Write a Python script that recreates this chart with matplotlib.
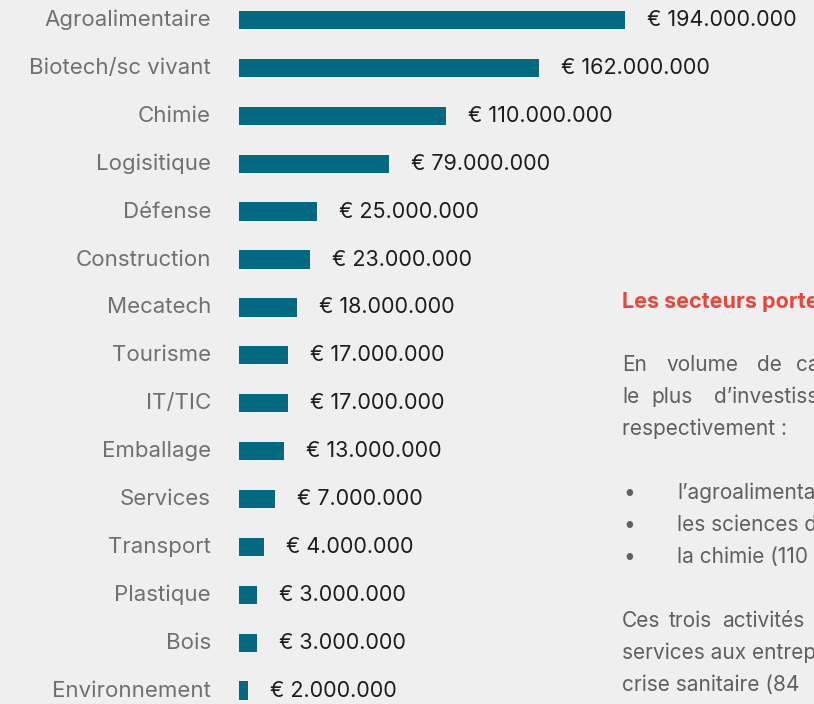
import matplotlib.pyplot as plt
import numpy as np

# Sectors and amounts shown on the infographic
sectors = ['Agroalimentaire', 'Biotech/sc vivant', 'Chimie', 'Logisitique', 'Défense',
           'Construction', 'Mecatech', 'Tourisme', 'IT/TIC', 'Emballage', 'Services',
           'Transport', 'Plastique', 'Bois', 'Environnement']
amount_labels = ['€ 194.000.000', '€ 162.000.000', '€ 110.000.000', '€ 79.000.000',
                 '€ 25.000.000', '€ 23.000.000', '€ 18.000.000', '€ 17.000.000',
                 '€ 17.000.000', '€ 13.000.000', '€ 7.000.000', '€ 4.000.000',
                 '€ 3.000.000', '€ 3.000.000', '€ 2.000.000']
# bar lengths as drawn in the picture (not proportional to the amounts)
bar_lengths = [386, 300, 207, 150, 78, 71, 58, 49, 49, 45, 36, 25, 18, 18, 9]

bg = '#efefef'
teal = '#016a80'
font = 'Inter'

fig = plt.figure(figsize=(8.14, 7.04), dpi=100)
fig.patch.set_facecolor(bg)
ax = fig.add_axes([0, 0, 1, 1])
ax.set_facecolor(bg)

n = len(sectors)
rows = np.arange(n)
ax.barh(rows, bar_lengths, height=0.38, color=teal)

# one row ~ 48 px, first row centred at 20 px from top
ax.set_ylim((704 - 20) / 47.9, -20 / 47.9)
ax.set_xlim(-239, 575)
ax.axis('off')

for i in rows:
    ax.text(-28, i, sectors[i], ha='right', va='center', fontsize=16,
            color='#707070', family=font)
    ax.text(bar_lengths[i] + 22, i, amount_labels[i], ha='left', va='center',
            fontsize=15.5, color='#1c1c1c', family=font)

# side text (cut off by the page edge in the original)
def px(x, y):
    return x / 814, 1 - y / 704

txt = dict(fontsize=15, color='#5f5f5f', family=font, va='center', ha='left')
fig.text(*px(622, 302), 'Les secteurs porte', fontsize=15.5, color='#e8463c',
         family=font, weight='bold', va='center')
for x, w in zip([622, 666, 757, 796], ['En', 'volume', 'de', 'ca']):
    fig.text(*px(x, 365), w, **txt)
for x, w in zip([622, 651, 714], ['le', 'plus', 'd’investiss']):
    fig.text(*px(x, 397), w, **txt)
fig.text(*px(622, 429), 'respectivement :', **txt)
for y, w in zip([493, 525, 557], ['l’agroalimenta', 'les sciences d',
                                  'la chimie (110']):
    fig.text(*px(623, y), '•', **txt)
    fig.text(*px(677, y), w, **txt)
for x, w in zip([622, 669, 722], ['Ces', 'trois', 'activités']):
    fig.text(*px(x, 621), w, **txt)
fig.text(*px(622, 653), 'services aux entrep', **txt)
fig.text(*px(622, 685), 'crise sanitaire (84', **txt)

fig.savefig('out.png', dpi=100, facecolor=bg)
